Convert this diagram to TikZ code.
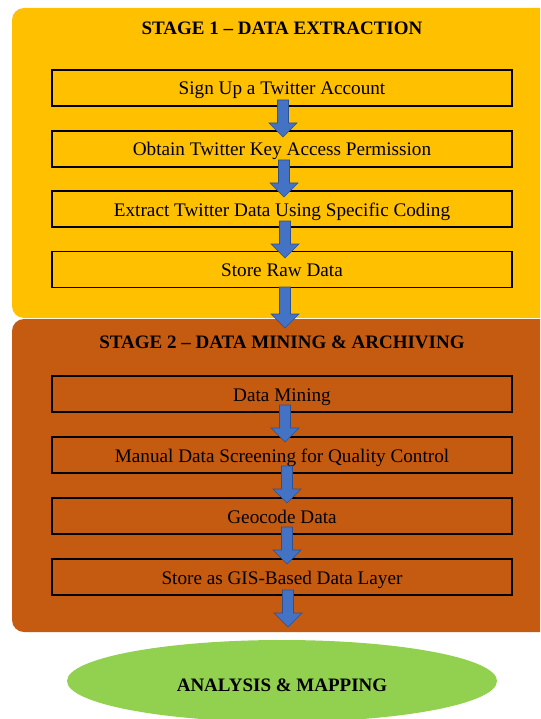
\documentclass[tikz,border=0pt]{standalone}
\usepackage{fontspec}
\setmainfont{Liberation Serif}
\usetikzlibrary{shapes.geometric}
\definecolor{stageone}{HTML}{FFC000}
\definecolor{stagetwo}{HTML}{C55A11}
\definecolor{finalgreen}{HTML}{92D050}
\definecolor{arrowblue}{HTML}{4472C4}
\definecolor{arrowedge}{HTML}{2F528F}
\tikzset{
  stepbox/.style={draw=black, line width=1.3pt, minimum width=460pt, minimum height=36pt, inner sep=0pt, text height=16pt, text depth=2pt, font=\fontsize{19.2}{22}\selectfont},
  stagetitle/.style={font=\fontsize{19}{22}\selectfont\bfseries, inner sep=0pt},
  blockarrow/.style={fill=arrowblue, draw=arrowedge, line width=0.6pt},
}
\newcommand\barrowdraw[3]{%
  \path[blockarrow] (#1-5.5,#2) -- (#1+5.5,#2) -- (#1+5.5,#3-14) -- (#1+14,#3-14) -- (#1,#3) -- (#1-14,#3-14) -- (#1-5.5,#3-14) -- cycle;}
\begin{document}
\begin{tikzpicture}[x=1pt,y=-1pt]
\useasboundingbox (0,0) rectangle (540,719);
\clip (0,0) rectangle (540,719);
\fill[stageone, rounded corners=12pt] (12,8) rectangle (570,318);
\fill[stagetwo, rounded corners=12pt] (12,319) rectangle (570,632);
\node[stagetitle] (t1) at (282,28.5) {STAGE 1 -- DATA EXTRACTION};
\node[stagetitle] (t2) at (282,342) {STAGE 2 -- DATA MINING \& ARCHIVING};
\node[stepbox] (b1) at (282,88) {Sign Up a Twitter Account};
\node[stepbox] (b2) at (282,149) {Obtain Twitter Key Access Permission};
\node[stepbox] (b3) at (282,209) {Extract Twitter Data Using Specific Coding};
\node[stepbox] (b4) at (282,269.5) {Store Raw Data};
\node[stepbox] (b5) at (282,394) {Data Mining};
\node[stepbox] (b6) at (282,455) {Manual Data Screening for Quality Control};
\node[stepbox] (b7) at (282,516) {Geocode Data};
\node[stepbox] (b8) at (282,577) {Store as GIS-Based Data Layer};
\node[ellipse, fill=finalgreen, minimum width=430pt, minimum height=82pt, inner sep=0pt, text height=20pt, text depth=0pt, font=\fontsize{19}{22}\selectfont\bfseries] (e) at (282,681) {ANALYSIS \& MAPPING};
\barrowdraw{283}{100}{137}
\barrowdraw{284}{160}{197}
\barrowdraw{285}{221}{258}
\barrowdraw{285}{287}{328}
\barrowdraw{285}{405}{442}
\barrowdraw{287}{466}{503}
\barrowdraw{287}{527}{564}
\barrowdraw{288}{590}{627}
\end{tikzpicture}
\end{document}
